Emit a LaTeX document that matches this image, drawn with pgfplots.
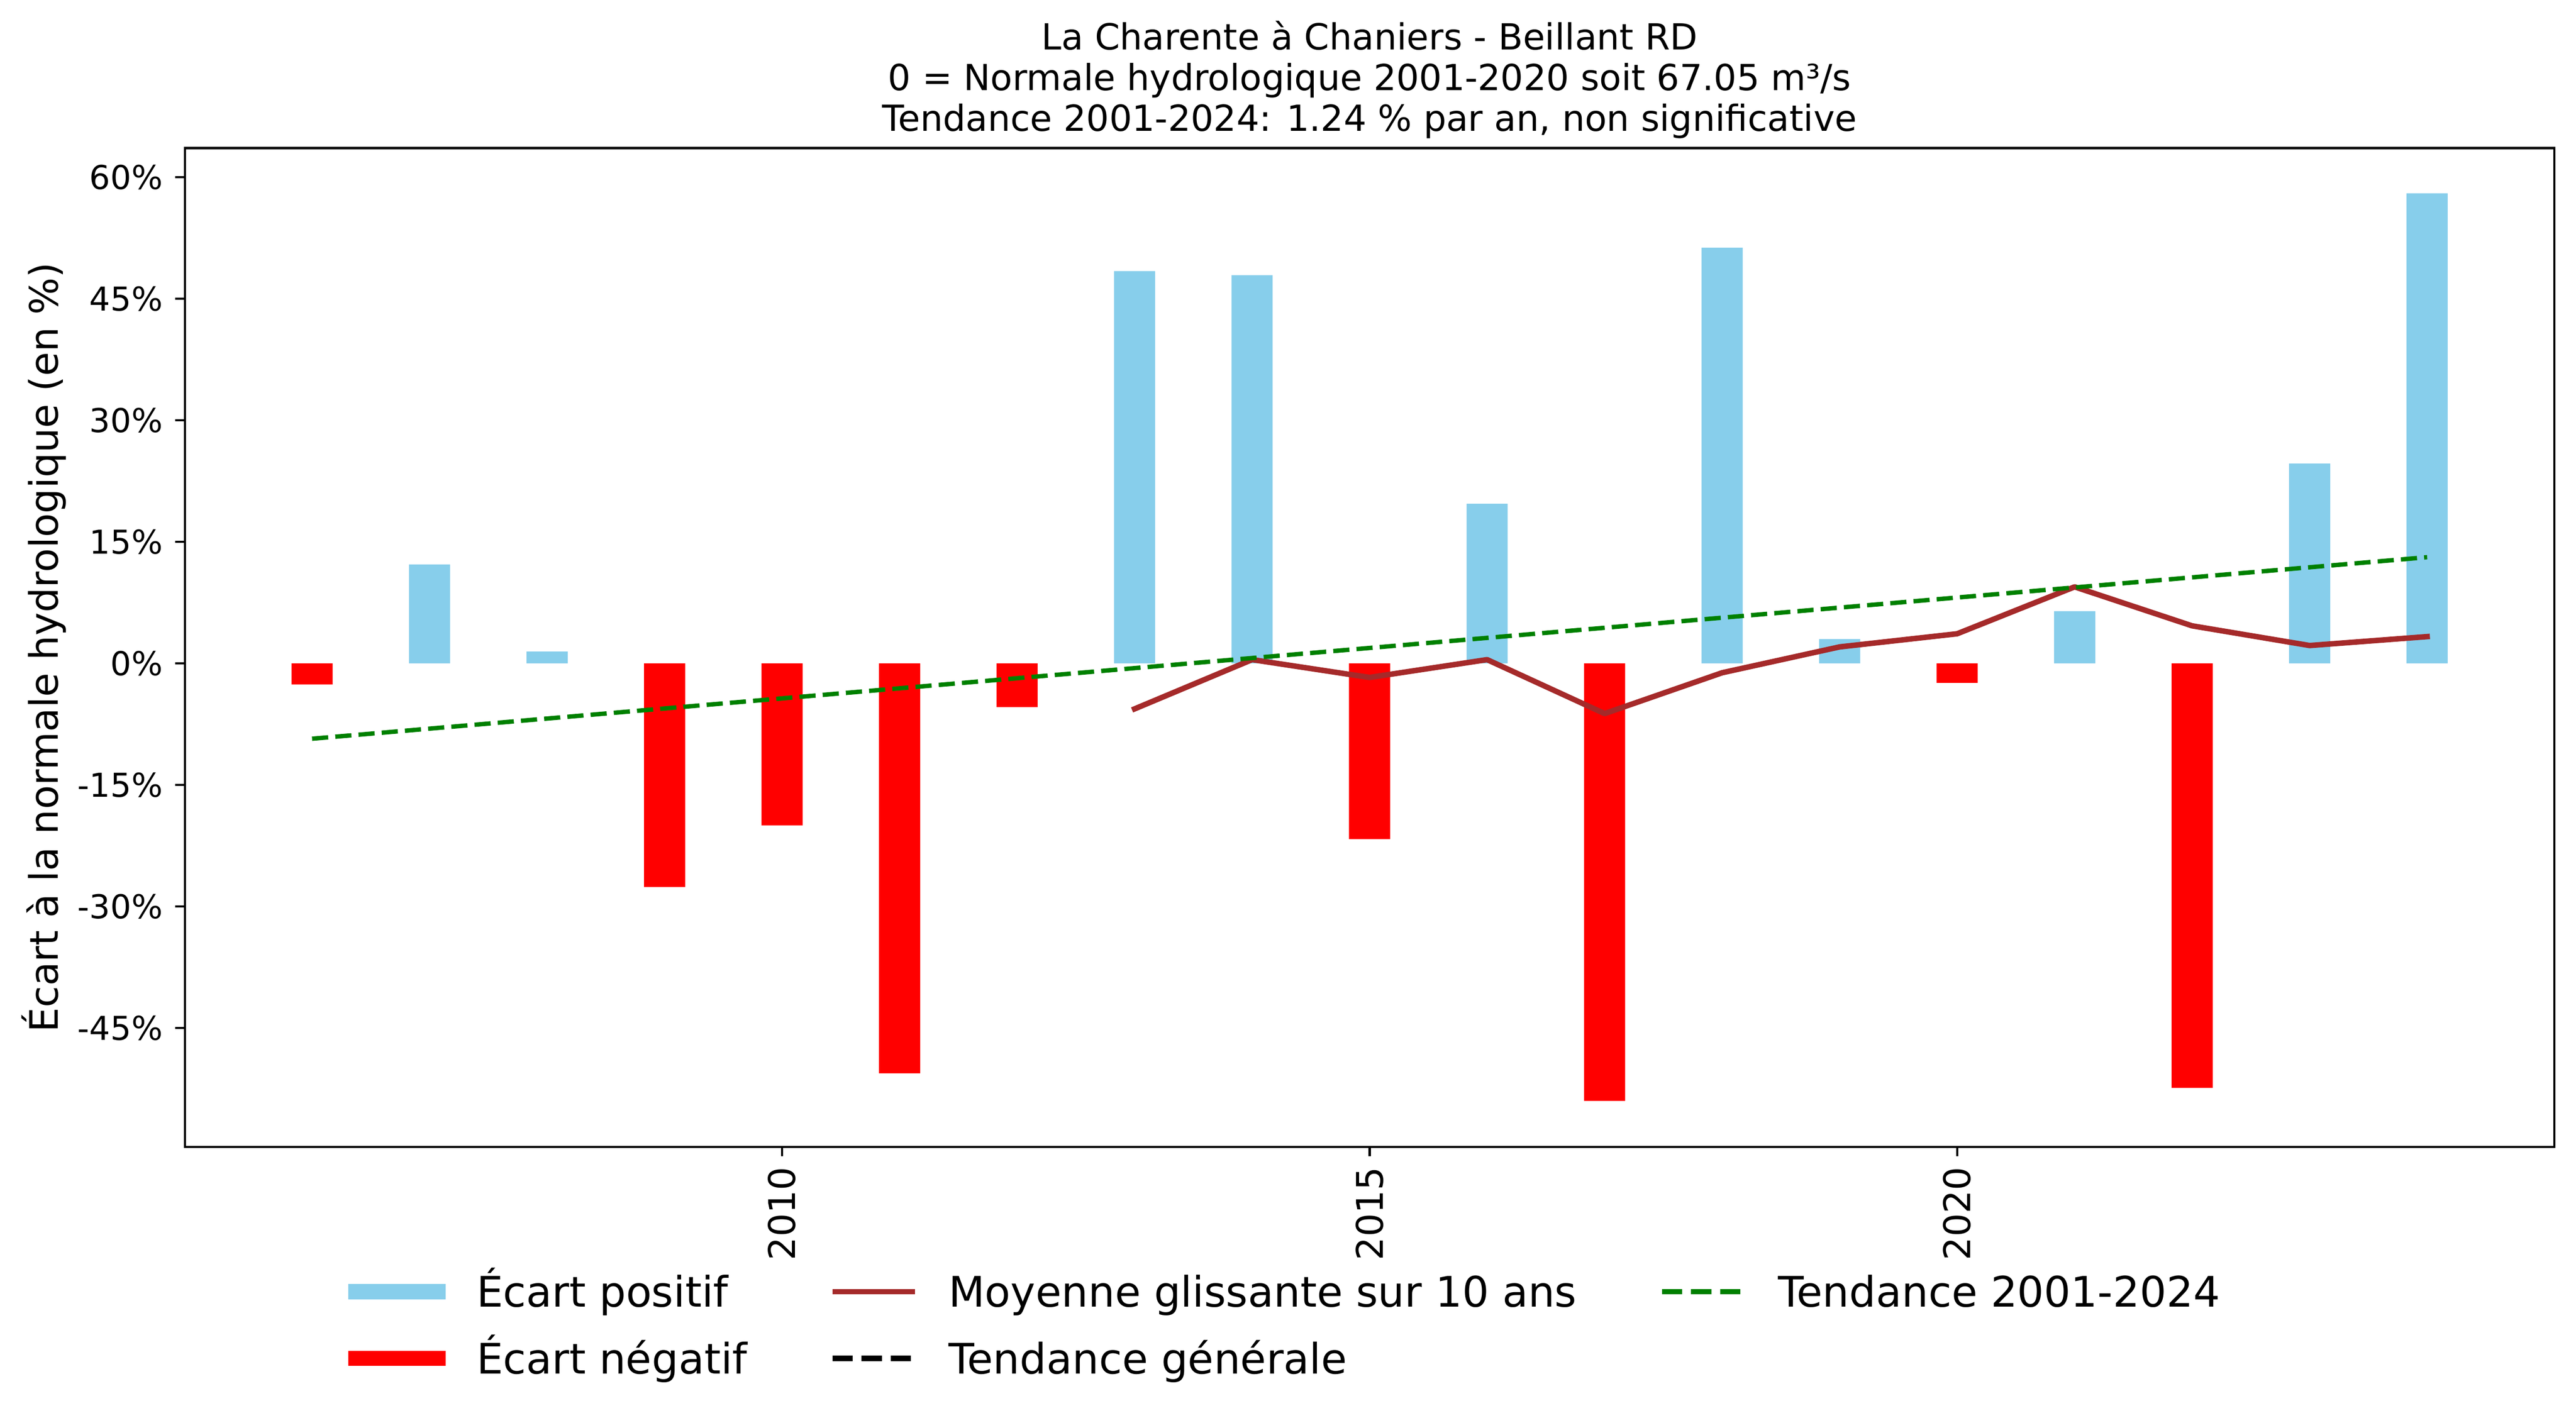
\documentclass[border=0pt]{standalone}
\usepackage{fontspec}
\setmainfont{DejaVu Sans}
\usepackage{pgfplots}
\pgfplotsset{compat=1.18}
\definecolor{skyblue}{HTML}{87CEEB}
\definecolor{mplred}{HTML}{FF0000}
\definecolor{mplbrown}{HTML}{A52A2A}
\definecolor{mplgreen}{HTML}{008000}
\pgfplotsset{
  patchleg/.style={legend image code/.code={\draw[line width=5.5pt, line cap=rect, ##1] (0pt,0pt) -- (30pt,0pt);}},
  lineleg/.style={legend image code/.code={\draw[##1] (0pt,0pt) -- (30pt,0pt);}},
}
\begin{document}
\begin{tikzpicture}
\useasboundingbox (-67.46pt,-100.63pt) rectangle (872.51pt,418.64pt);
\begin{axis}[
  name=ax, at={(0pt,0pt)}, anchor=south west,
  scale only axis, width=864.6pt, height=364.6pt,
  xmin=2004.9175, xmax=2025.0825, ymin=-59.67, ymax=63.59,
  axis line style={line width=0.8pt, black},
  tick align=outside, major tick length=3.5pt,
  every tick/.style={line width=0.8pt, black},
  xtick pos=bottom, ytick pos=left,
  minor tick num=0,
  /pgf/number format/assume math mode=true,
  xtick={2010,2015,2020}, xticklabels={2010,2015,2020},
  ytick={-45,-30,-15,0,15,30,45,60},
  yticklabels={-45\%,-30\%,-15\%,0\%,15\%,30\%,45\%,60\%},
  yticklabel style={font=\fontsize{12pt}{14pt}\selectfont, anchor=east, inner xsep=4.4pt, inner ysep=0pt},
  xticklabel style={font=\fontsize{13.4pt}{16pt}\selectfont, rotate=90, anchor=east, inner xsep=3.6pt, inner ysep=0pt},
  ylabel={Écart à la normale hydrologique (en \%)},
  ylabel style={at={(axis description cs:-0.05355,0.5)}, anchor=base, font=\fontsize{14.3pt}{17pt}\selectfont},
  legend columns=3,
  legend cell align=left,
  legend style={at={(0.0689,-0.1208)}, anchor=north west, draw=none, fill=none,
     inner sep=0pt, outer sep=0pt,
     font=\fontsize{15.35pt}{18pt}\selectfont,
     row sep=6.8pt, column sep=0pt,
     nodes={inner sep=0pt, text height=14.4pt, text depth=3.2pt},
     /tikz/every odd column/.append style={column sep=11.4pt},
     /tikz/every even column/.append style={column sep=30.1pt}},
]
\addlegendimage{patchleg, color=skyblue}
\addlegendentry{Écart positif}
\addlegendimage{lineleg, color=mplbrown, line width=2pt}
\addlegendentry{Moyenne glissante sur 10 ans}
\addlegendimage{lineleg, color=mplgreen, line width=2pt, dash pattern=on 7.4pt off 3.2pt}
\addlegendentry{Tendance 2001-2024}
\addlegendimage{patchleg, color=mplred}
\addlegendentry{Écart négatif}
\addlegendimage{lineleg, color=black, line width=2pt, dash pattern=on 7.4pt off 3.2pt}
\addlegendentry{Tendance générale}

\addplot[ybar, bar width=0.35, bar shift=0pt, fill=skyblue, draw=none, forget plot]
  coordinates {(2007,12.2) (2008,1.45) (2013,48.4) (2014,47.9) (2016,19.7) (2018,51.3) (2019,3.0) (2021,6.45) (2023,24.65) (2024,58.0)};
\addplot[ybar, bar width=0.35, bar shift=0pt, fill=mplred, draw=none, forget plot]
  coordinates {(2006,-2.6) (2009,-27.6) (2010,-20.0) (2011,-50.6) (2012,-5.4) (2015,-21.7) (2017,-54.0) (2020,-2.4) (2022,-52.4)};
\addplot[mplbrown, line width=2pt, line join=round, line cap=rect, mark=none, forget plot]
  coordinates {(2013,-5.62) (2014,0.46) (2015,-1.74) (2016,0.46) (2017,-6.2) (2018,-1.16) (2019,2.03) (2020,3.65) (2021,9.44) (2022,4.63) (2023,2.2) (2024,3.3)};
\addplot[mplgreen, line width=1.6pt, dash pattern=on 5.9pt off 2.6pt, mark=none, forget plot]
  coordinates {(2006,-9.3) (2024,13.1)};
\end{axis}
\node[anchor=base, inner sep=0pt, font=\fontsize{13.1pt}{16pt}\selectfont] at ([yshift=35.86pt]ax.north) {La Charente à Chaniers - Beillant RD};
\node[anchor=base, inner sep=0pt, font=\fontsize{13.1pt}{16pt}\selectfont] at ([yshift=21.0pt]ax.north) {0 = Normale hydrologique 2001-2020 soit 67.05 m³/s};
\node[anchor=base, inner sep=0pt, font=\fontsize{13.1pt}{16pt}\selectfont] at ([yshift=6.16pt]ax.north) {Tendance 2001-2024: 1.24 \% par an, non significative};
\end{tikzpicture}
\end{document}
